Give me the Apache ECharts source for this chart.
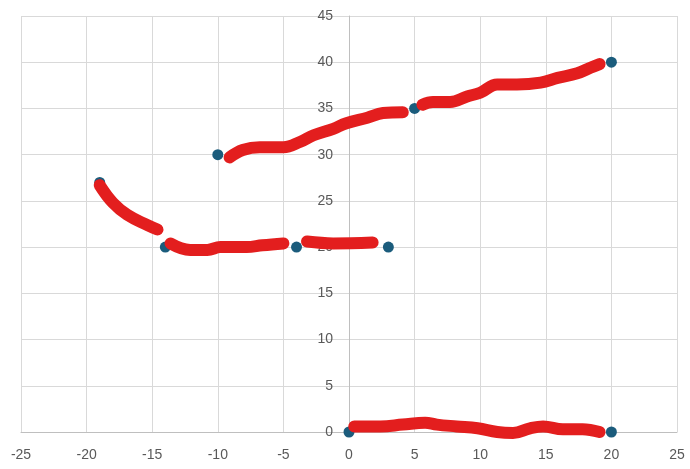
<!DOCTYPE html>
<html>
<head>
<meta charset="utf-8">
<script src="https://cdn.jsdelivr.net/npm/echarts@6/dist/echarts.min.js"></script>
<style>
  html, body { margin: 0; padding: 0; background: #fff; }
  #chart { width: 690px; height: 469px; }
</style>
</head>
<body>
<div id="chart"></div>
<script>
// blue marker points
const dots = [[-19, 27], [-14, 20], [-10, 30], [-4, 20], [3, 20], [5, 35], [20, 40], [0, 0], [20, 0]];

// red hand-drawn strokes
const stroke1 = [[-19.0, 26.7], [-18.0, 24.8], [-16.9, 23.5], [-15.4, 22.4], [-14.6, 21.9]];
const stroke2 = [[-13.6, 20.4], [-12.1, 19.7], [-10.8, 19.7], [-9.8, 20.0], [-7.8, 20.0], [-6.6, 20.2], [-5.0, 20.4]];
const stroke3 = [[-3.2, 20.6], [-1.2, 20.4], [1.8, 20.5]];
const stroke4 = [[-9.1, 29.7], [-8.1, 30.5], [-6.8, 30.8], [-5.0, 30.8], [-3.7, 31.4], [-2.7, 32.1], [-1.2, 32.8], [-0.2, 33.4], [1.4, 34.0], [2.6, 34.5], [4.1, 34.6]];
const stroke5 = [[5.6, 35.4], [6.4, 35.7], [7.7, 35.7], [9.0, 36.3], [10.0, 36.7], [11.3, 37.6], [12.8, 37.6], [14.6, 37.8], [15.9, 38.3], [17.4, 38.8], [18.4, 39.4], [19.1, 39.8]];
const stroke6 = [[0.4, 0.6], [2.4, 0.6], [4.1, 0.8], [5.8, 1.0], [6.7, 0.8], [8.2, 0.6], [9.8, 0.4], [11.3, 0.0], [12.5, -0.1], [13.8, 0.4], [14.8, 0.6], [16.3, 0.3], [17.8, 0.3], [19.1, 0.0]];

const strokes = [stroke1, stroke2, stroke3, stroke4, stroke5, stroke6];

const chart = echarts.init(document.getElementById("chart"));

const gridLeft = 21;
const gridRight = 13;
const plotWidth = 690 - gridLeft - gridRight;
// y axis sits on x = 0, i.e. halfway across the -25..25 range
const yAxisOffset = -plotWidth / 2;

const labelStyle = {
  color: "#595959",
  fontSize: 14,
  fontFamily: "Liberation Sans",
};

const option = {
  animation: false,
  grid: { left: gridLeft, right: gridRight, top: 16, bottom: 37, outerBoundsMode: "none" },
  xAxis: {
    type: "value",
    min: -25,
    max: 25,
    interval: 5,
    axisLine: { show: true, onZero: false, lineStyle: { color: "#bfbfbf", width: 1 } },
    axisTick: { show: false },
    axisLabel: { ...labelStyle, margin: 16 },
    splitLine: { show: true, lineStyle: { color: "#d9d9d9", width: 1 } },
  },
  yAxis: {
    type: "value",
    min: 0,
    max: 45,
    interval: 5,
    offset: yAxisOffset,
    axisLine: { show: true, onZero: false, lineStyle: { color: "#bfbfbf", width: 1 } },
    axisTick: { show: false },
    axisLabel: { ...labelStyle, margin: 16 },
    splitLine: { show: true, lineStyle: { color: "#d9d9d9", width: 1 } },
  },
  series: [
    {
      type: "scatter",
      data: dots,
      symbolSize: 11,
      clip: false,
      z: 2,
      itemStyle: { color: "#1b5c7c", opacity: 1 },
    },
    ...strokes.map((s) => ({
      type: "line",
      data: s,
      smooth: 0.4,
      showSymbol: false,
      clip: false,
      z: 3,
      lineStyle: { color: "#e31e1e", width: 12, cap: "round", join: "round" },
    })),
  ],
};

chart.setOption(option);
</script>
</body>
</html>
